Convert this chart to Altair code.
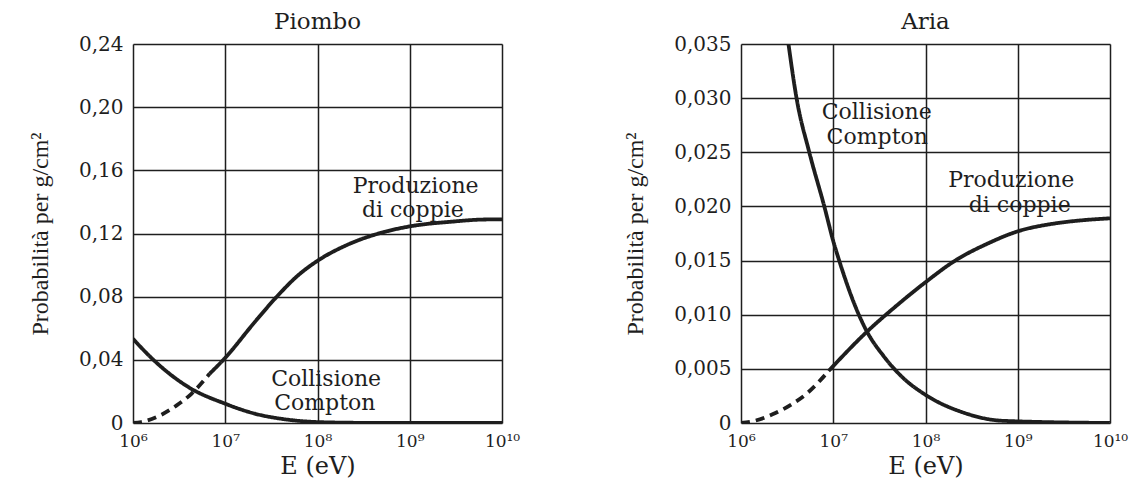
import altair as alt
import pandas as pd

# ---------------- data ----------------
# Piombo (lead)
pb_pair_dash_E = [1e6, 1.23e6, 1.87e6, 2.95e6, 4.3e6, 6.8e6]
pb_pair_dash_P = [0.0, 0.0006, 0.0042, 0.011, 0.0185, 0.0313]
pb_pair_E = [6.8e6, 1e7, 2.08e7, 3.7e7, 6.1e7, 1e8, 2.1e8, 5.3e8, 1e9, 3e9, 5.9e9, 1e10]
pb_pair_P = [0.0313, 0.0413, 0.0638, 0.0806, 0.0933, 0.1027, 0.1128, 0.1210, 0.1245, 0.1276, 0.1288, 0.129]
pb_compton_E = [1e6, 1.7e6, 4e6, 1e7, 2.1e7, 4.8e7, 1e8, 3e8, 1e9, 1e10]
pb_compton_P = [0.0533, 0.0395, 0.0227, 0.0122, 0.0059, 0.0021, 0.0006, 0.0001, 0.0, 0.0]

# Aria (air)
air_pair_dash_E = [1e6, 1.4e6, 2.2e6, 3.5e6, 5.3e6, 8.9e6]
air_pair_dash_P = [0.0, 0.0002, 0.0008, 0.0017, 0.0028, 0.0048]
air_pair_E = [8.9e6, 2.3e7, 4.8e7, 1e8, 2.1e8, 4.8e8, 1e9, 2.4e9, 4.7e9, 1e10]
air_pair_P = [0.0048, 0.0084, 0.0108, 0.0130, 0.0150, 0.0166, 0.0177, 0.0184, 0.0187, 0.0189]
air_compton_E = [3.27e6, 4.0e6, 5.5e6, 8.0e6, 1e7, 1.16e7, 1.85e7, 2.3e7, 3.5e7, 5.5e7, 1e8, 2.5e8, 7e8, 1e10]
air_compton_P = [0.035, 0.030, 0.025, 0.020, 0.0168, 0.015, 0.0102, 0.0085, 0.0062, 0.0043, 0.0026, 0.0010, 0.0002, 0.0]

# axes
x_ticks = [1e6, 1e7, 1e8, 1e9, 1e10]
x_tick_labels = ["10⁶", "10⁷", "10⁸", "10⁹", "10¹⁰"]
pb_y_ticks = [0, 0.04, 0.08, 0.12, 0.16, 0.20, 0.24]
pb_y_labels = ["0", "0,04", "0,08", "0,12", "0,16", "0,20", "0,24"]
air_y_ticks = [0, 0.005, 0.010, 0.015, 0.020, 0.025, 0.030, 0.035]
air_y_labels = ["0", "0,005", "0,010", "0,015", "0,020", "0,025", "0,030", "0,035"]

# annotation labels (anchored at their text baseline)
pb_label_text = ["Produzione", "di coppie", "Collisione", "Compton"]
pb_label_E = [1.16e9, 1.08e9, 1.24e8, 1.2e8]
pb_label_P = [0.1459, 0.1305, 0.0236, 0.0082]
air_label_text = ["Collisione", "Compton", "Produzione", "di coppie"]
air_label_E = [2.96e7, 3.0e7, 8.5e8, 1.05e9]
air_label_P = [0.0281, 0.0258, 0.0218, 0.0195]

SERIF = "DejaVu Serif"
INK = "#1e1e1e"


def seg(E, P, name, style):
    return pd.DataFrame({"E": E, "P": P, "seg": name, "style": style})


def lookup_expr(values, labels, tol):
    parts = [f"abs(datum.value - {v}) < {tol} ? '{l}'" for v, l in zip(values, labels)]
    return " : ".join(parts) + " : ''"


def panel(title, curves, labels, y_ticks, y_labels, y_max, eps):
    xscale = alt.Scale(type="log", domain=[1e6, 1e10], nice=False)
    yscale = alt.Scale(domain=[0, y_max], nice=False)
    xaxis = alt.Axis(
        values=x_ticks,
        labelExpr=lookup_expr(x_ticks, x_tick_labels, "datum.value*0.01"),
        title="E (eV)",
        titleFont=SERIF, titleFontSize=24, titleFontWeight="normal",
        titleColor=INK, titlePadding=5,
        labelFont=SERIF, labelFontSize=17, labelColor=INK, labelPadding=10,
        grid=True, gridColor=INK, gridWidth=1.5, gridOpacity=1,
        domain=False, ticks=False, labelFlush=False, labelOverlap=False,
    )
    yaxis = alt.Axis(
        values=y_ticks,
        labelExpr=lookup_expr(y_ticks, y_labels, str(eps)),
        title="Probabilità per g/cm²",
        titleFont="Liberation Serif", titleFontSize=24, titleFontWeight="normal",
        titleColor=INK, titlePadding=26,
        labelFont=SERIF, labelFontSize=20, labelColor=INK, labelPadding=10,
        grid=True, gridColor=INK, gridWidth=1.5, gridOpacity=1,
        domain=False, ticks=False, labelFlush=False, labelOverlap=False,
    )
    lines = alt.Chart(curves).mark_line(
        color=INK, strokeWidth=3.8, interpolate="monotone", clip=True
    ).encode(
        x=alt.X("E:Q", scale=xscale, axis=xaxis),
        y=alt.Y("P:Q", scale=yscale, axis=yaxis),
        detail="seg:N",
        strokeDash=alt.StrokeDash(
            "style:N",
            scale=alt.Scale(domain=["solid", "dashed"], range=[[1, 0], [9, 6]]),
            legend=None,
        ),
    )
    text = alt.Chart(labels).mark_text(
        font=SERIF, fontSize=22, color=INK, align="center", baseline="alphabetic"
    ).encode(
        x=alt.X("E:Q", scale=xscale),
        y=alt.Y("P:Q", scale=yscale),
        text="text:N",
    )
    return alt.layer(lines, text).properties(
        width=369, height=379,
        title=alt.TitleParams(title, font=SERIF, fontSize=23, fontWeight="normal",
                              color=INK, anchor="middle", offset=0),
    )


pb_curves = pd.concat([
    seg(pb_pair_dash_E, pb_pair_dash_P, "pair_dash", "dashed"),
    seg(pb_pair_E, pb_pair_P, "pair", "solid"),
    seg(pb_compton_E, pb_compton_P, "compton", "solid"),
])
air_curves = pd.concat([
    seg(air_pair_dash_E, air_pair_dash_P, "pair_dash", "dashed"),
    seg(air_pair_E, air_pair_P, "pair", "solid"),
    seg(air_compton_E, air_compton_P, "compton", "solid"),
])
pb_labels = pd.DataFrame({"E": pb_label_E, "P": pb_label_P, "text": pb_label_text})
air_labels = pd.DataFrame({"E": air_label_E, "P": air_label_P, "text": air_label_text})

left = panel("Piombo", pb_curves, pb_labels, pb_y_ticks, pb_y_labels, 0.24, 0.001)
right = panel("Aria", air_curves, air_labels, air_y_ticks, air_y_labels, 0.035, 0.0001)

chart = alt.hconcat(left, right, spacing=102).resolve_scale(
    y="independent", strokeDash="shared"
).configure_view(
    stroke=INK, strokeWidth=2.5
).configure(background="white", padding={"left": 19, "top": 2, "right": 0, "bottom": 0})

chart.save("out.html", embed_options={"renderer": "svg", "actions": False})
